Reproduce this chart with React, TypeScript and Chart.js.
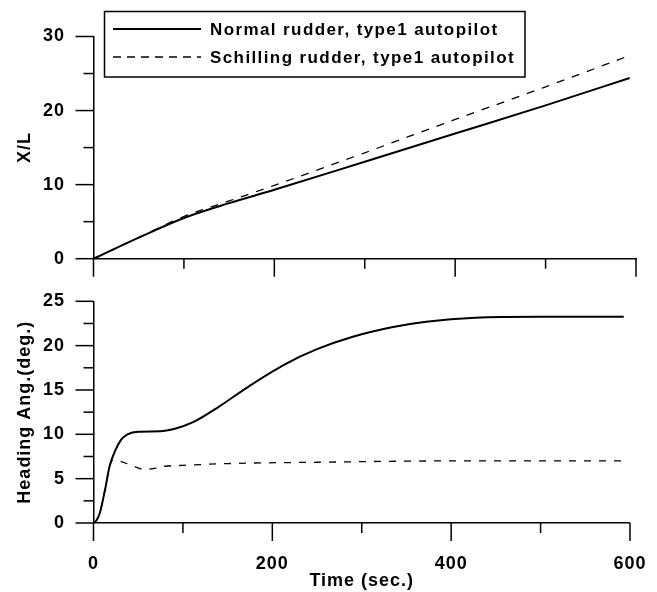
import React, { useEffect, useRef } from 'react';
import { Chart, registerables } from 'chart.js';
Chart.register(...registerables);

// ---- Data ----
const seriesLabels = ['Normal rudder, type1 autopilot', 'Schilling rudder, type1 autopilot'];

const timeNormalX = [0, 50, 100, 150, 200, 300, 400, 500, 593];
const normalX = [0, 2.85, 5.5, 7.5, 9.3, 13.1, 16.9, 20.7, 24.4];
const timeSchillingX = [0, 50, 100, 150, 200, 300, 400, 500, 590];
const schillingX = [0, 2.85, 5.7, 7.8, 9.9, 14.3, 18.8, 23.2, 27.3];

const timeNormalH = [0, 3, 7, 13, 18, 24, 31, 38, 50, 75, 90, 112, 140, 175, 214, 250, 290, 335, 372, 427, 500, 593];
const normalH = [0, 0.25, 1.1, 3.8, 6.4, 8.1, 9.4, 10.0, 10.3, 10.35, 10.6, 11.4, 13.1, 15.5, 17.9, 19.6, 21.0, 22.1, 22.7, 23.15, 23.25, 23.25];
const timeSchillingH = [0, 3, 7, 13, 18, 22, 30, 40, 57, 70, 80, 100, 150, 250, 400, 593];
const schillingH = [0, 0.25, 1.1, 3.8, 6.4, 7.1, 6.95, 6.6, 6.05, 6.2, 6.4, 6.5, 6.7, 6.85, 7.0, 7.0];

const xTickValues = [0, 200, 400, 600];

const FONT = "'Liberation Sans', Arial, Helvetica, sans-serif";

const pts = (t: number[], v: number[]) => t.map((x, i) => ({ x, y: v[i] }));

const letterSpacingPlugin = {
  id: 'letterSpacing',
  beforeDraw(chart: any) {
    (chart.ctx as any).letterSpacing = '1px';
  },
};

const tickMarksPlugin = {
  id: 'tickMarks',
  afterDraw(chart: any, _args: any, opts: any) {
    const ctx = chart.ctx;
    ctx.save();
    ctx.strokeStyle = '#000';
    ctx.lineWidth = 1.5;
    const xs = chart.scales.x;
    const ys = chart.scales.y;
    xs.ticks.forEach((t: any) => {
      const px = xs.getPixelForValue(t.value);
      const len = t.value % opts.xMajor === 0 ? 18 : 10;
      ctx.beginPath();
      ctx.moveTo(px, xs.top);
      ctx.lineTo(px, xs.top + len);
      ctx.stroke();
    });
    ys.ticks.forEach((t: any) => {
      const py = ys.getPixelForValue(t.value);
      const len = Math.abs(t.value % opts.yMajor) < 1e-9 ? 18 : 10;
      ctx.beginPath();
      ctx.moveTo(ys.right, py);
      ctx.lineTo(ys.right - len, py);
      ctx.stroke();
    });
    ctx.restore();
  },
};

const boxLegendPlugin = {
  id: 'boxLegend',
  afterDraw(chart: any) {
    const ctx = chart.ctx;
    const ds = chart.data.datasets;
    ctx.save();
    ctx.strokeStyle = '#000';
    ctx.lineWidth = 1.5;
    ctx.strokeRect(104.5, 11.5, 420.5, 65.5);
    const rows = [29, 57];
    ds.forEach((d: any, i: number) => {
      ctx.beginPath();
      ctx.lineWidth = i === 0 ? 2 : 1.3;
      ctx.setLineDash(i === 0 ? [] : [8, 6]);
      ctx.moveTo(113, rows[i]);
      ctx.lineTo(201, rows[i]);
      ctx.stroke();
      ctx.setLineDash([]);
      (ctx as any).letterSpacing = '1.4px';
      ctx.fillStyle = '#000';
      ctx.font = `bold 17px ${FONT}`;
      ctx.textBaseline = 'middle';
      ctx.textAlign = 'left';
      ctx.fillText(d.label, 210, rows[i] + 1);
    });
    ctx.restore();
  },
};

function makeScales(yMax: number, yStep: number, yMajor: number, yTitle: string, showX: boolean, xAxisHeight: number) {
  return {
    x: {
      type: 'linear',
      min: 0,
      max: 600,
      ticks: {
        stepSize: 100,
        autoSkip: false,
        maxRotation: 0,
        display: showX,
        padding: 12,
        color: '#000',
        font: { family: FONT, size: 18, weight: 'bold' },
        callback: (v: number) => (xTickValues.includes(v) ? String(v) : ''),
      },
      grid: { display: true, drawOnChartArea: false, drawTicks: true, tickLength: 18, tickColor: 'transparent', color: 'transparent' },
      border: { display: true, color: '#000', width: 1.5 },
      title: {
        display: showX,
        text: 'Time (sec.)',
        color: '#000',
        font: { family: FONT, size: 18, weight: 'bold' },
        padding: { top: 0, bottom: 0 },
      },
      afterFit: (s: any) => {
        s.height = xAxisHeight;
      },
    },
    y: {
      type: 'linear',
      min: 0,
      max: yMax,
      ticks: {
        stepSize: yStep,
        autoSkip: false,
        padding: 10.5,
        color: '#000',
        font: { family: FONT, size: 18, weight: 'bold' },
        callback: (v: number) => (Math.abs(v % yMajor) < 1e-9 ? String(v) : ''),
      },
      grid: { display: true, drawOnChartArea: false, drawTicks: true, tickLength: 18, tickColor: 'transparent', color: 'transparent' },
      border: { display: true, color: '#000', width: 1.5 },
      title: {
        display: true,
        text: yTitle,
        color: '#000',
        font: { family: FONT, size: 18, weight: 'bold' },
        padding: { top: 14, bottom: 0 },
      },
      afterFit: (s: any) => {
        s.width = 93.5;
      },
    },
  };
}

const datasetStyle = (i: number) => ({
  borderColor: '#000',
  borderWidth: i === 0 ? 2 : 1.3,
  borderDash: i === 0 ? [] : [8, 8],
  pointRadius: 0,
  fill: false,
  cubicInterpolationMode: 'monotone',
});

export default function App() {
  const topRef = useRef<HTMLCanvasElement>(null);
  const botRef = useRef<HTMLCanvasElement>(null);

  useEffect(() => {
    const top = new Chart(topRef.current as HTMLCanvasElement, {
      type: 'line',
      data: {
        datasets: [
          { label: seriesLabels[0], data: pts(timeNormalX, normalX), ...datasetStyle(0) },
          { label: seriesLabels[1], data: pts(timeSchillingX, schillingX), ...datasetStyle(1) },
        ],
      } as any,
      options: {
        responsive: false,
        animation: false,
        devicePixelRatio: 1,
        layout: { padding: { top: 36.5, right: 21, left: 0, bottom: 0 } },
        plugins: { legend: { display: false }, tooltip: { enabled: false }, tickMarks: { xMajor: 200, yMajor: 10 } } as any,
        scales: makeScales(30, 5, 10, 'X/L', false, 18.5) as any,
      },
      plugins: [letterSpacingPlugin, tickMarksPlugin, boxLegendPlugin],
    });
    const bot = new Chart(botRef.current as HTMLCanvasElement, {
      type: 'line',
      data: {
        datasets: [
          { label: seriesLabels[0], data: pts(timeNormalH, normalH), ...datasetStyle(0) },
          { label: seriesLabels[1], data: pts(timeSchillingH, schillingH), ...datasetStyle(1), borderDash: [7, 8] },
        ],
      } as any,
      options: {
        responsive: false,
        animation: false,
        devicePixelRatio: 1,
        layout: { padding: { top: 18, right: 21, left: 0, bottom: 0 } },
        plugins: { legend: { display: false }, tooltip: { enabled: false }, tickMarks: { xMajor: 200, yMajor: 5 } } as any,
        scales: makeScales(25, 2.5, 5, 'Heading Ang.(deg.)', true, 69) as any,
      },
      plugins: [letterSpacingPlugin, tickMarksPlugin],
    });
    return () => {
      top.destroy();
      bot.destroy();
    };
  }, []);

  return (
    <div style={{ position: 'absolute', left: 0, top: 0, width: 657, height: 592, background: '#fff' }}>
      <canvas ref={topRef} width={657} height={280} style={{ position: 'absolute', left: 0, top: 0, display: 'block' }} />
      <canvas ref={botRef} width={657} height={312} style={{ position: 'absolute', left: 0, top: 280, display: 'block' }} />
    </div>
  );
}
